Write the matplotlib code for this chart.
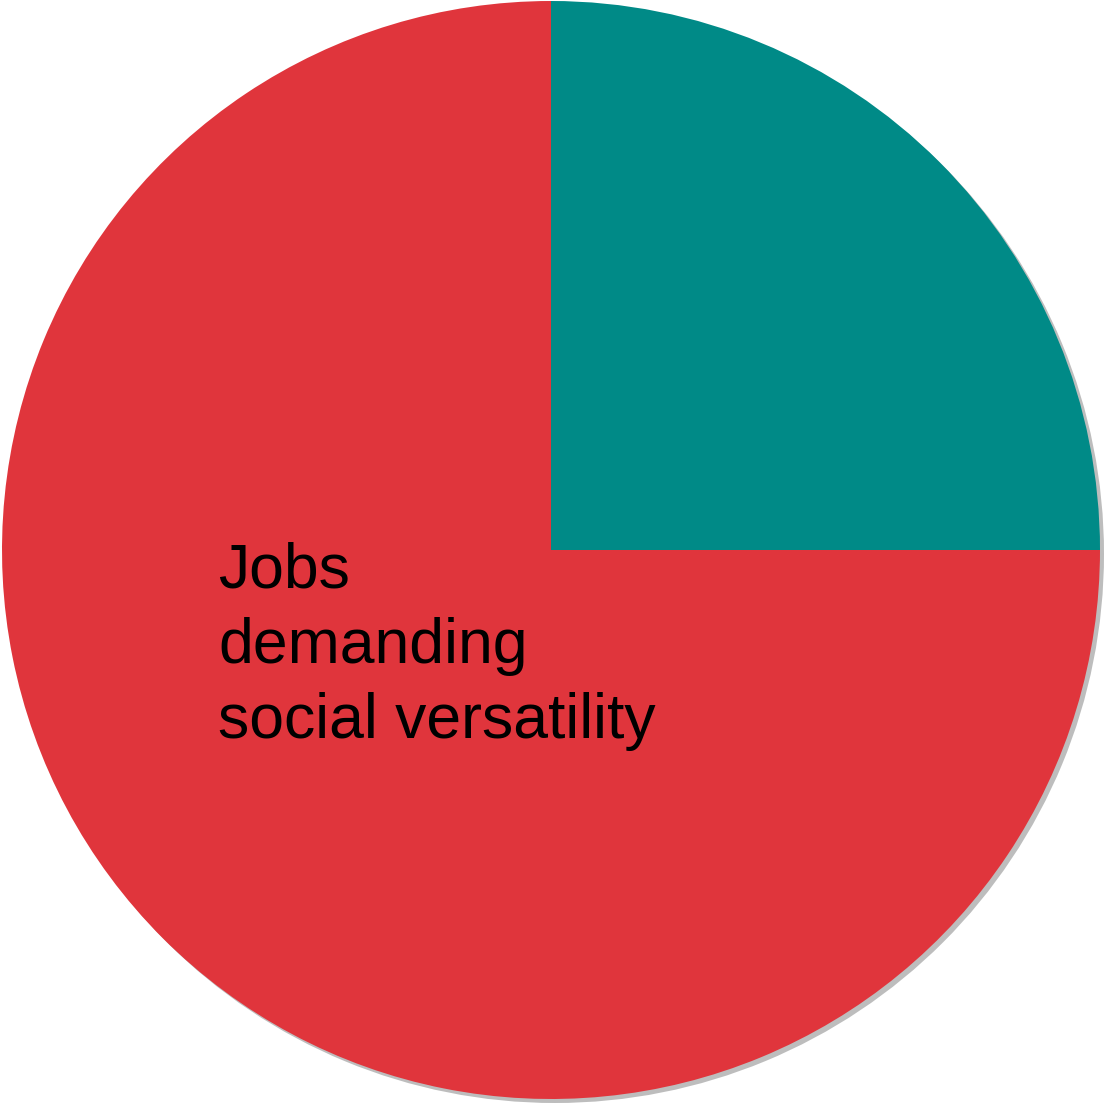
import matplotlib.pyplot as plt

# pie shares, first slice starts at 12 o'clock, clockwise
shares = [25, 75]
slice_colors = ['#008a87', '#e0353c']
label = 'Jobs\ndemanding\nsocial versatility'

W, H = 1107, 1105
cx, cy, r = 551, 550, 549  # pixel centre and radius

fig = plt.figure(figsize=(W / 100, H / 100), dpi=100)
ax = fig.add_axes([0, 0, 1, 1])

# soft grey shadow offset down-right
off = 4 / r
ax.pie([1], colors=['#bdbdbd'], radius=1, center=(off, -off), frame=True)
ax.pie(shares, colors=slice_colors, startangle=90, counterclock=False,
       radius=1, center=(0, 0), frame=True,
       wedgeprops=dict(linewidth=0))
ax.set_xlim(-cx / r, (W - cx) / r)
ax.set_ylim(-(H - cy) / r, cy / r)
ax.set_aspect('auto')
ax.axis('off')

# va='baseline' on multi-line text pins the last line's baseline
ax.text((218 - cx) / r, (cy - 738) / r, label, fontsize=45,
        family='Liberation Sans', color='black', ha='left', va='baseline',
        linespacing=1.35)

fig.savefig('out.png', dpi=100)
